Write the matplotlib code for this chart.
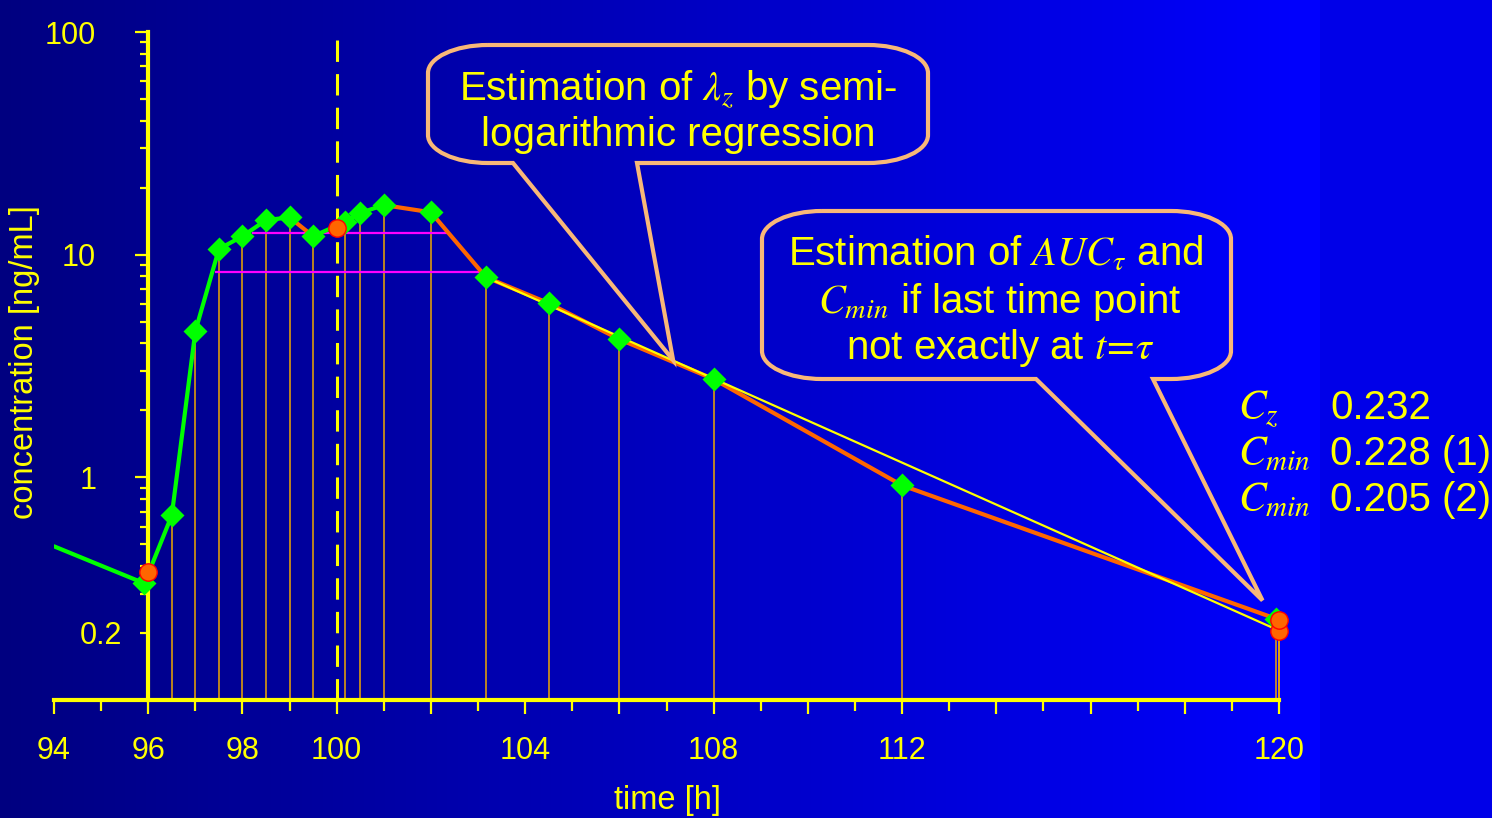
import matplotlib.pyplot as plt
import numpy as np
from matplotlib.path import Path
from matplotlib.patches import PathPatch
from matplotlib.ticker import FixedLocator, FuncFormatter, LogLocator

plt.rcParams['font.family'] = ['Liberation Sans', 'DejaVu Sans']
plt.rcParams['mathtext.fontset'] = 'stix'

# sampling times [h] and measured concentrations [ng/mL]
times = [95.92, 96.5, 97, 97.5, 98, 98.5, 99, 99.5, 100.17, 100.5, 101, 102,
         103.17, 104.5, 106, 108, 112, 119.93]
conc = [0.334, 0.675, 4.53, 10.6, 12.1, 14.3, 14.7, 12.1, 14.0, 15.4, 16.7, 15.5,
        7.92, 6.05, 4.17, 2.76, 0.92, 0.232]

# tail of the previous dosing interval
prev_t = [94.0, 95.92]
prev_c = [0.49, 0.334]

# interpolated / extrapolated concentrations at interval borders
est_t = [96, 100, 120, 120]
est_c = [0.374, 13.2, 0.205, 0.228]

# semi-logarithmic regression (lambda_z)
reg_t = [103.17, 120]
reg_c = [7.92, 0.205]

# horizontal plateau levels
plateau_c = [12.5, 8.34]
plateau_from = [98.2, 97.42]
plateau_to = [102.34, 103.19]

tau_start, tau_end = 96, 120
dose_time = 100

xtick_vals = list(range(94, 121, 2))
xtick_minor = list(range(95, 120, 2))
xtick_shown = [94, 96, 98, 100, 104, 108, 112, 120]

summary_names = [r'$C_z$', r'$C_{min}$', r'$C_{min}$']
summary_vals = ['0.232', '0.228 (1)', '0.205 (2)']

yellow = '#FFFF00'
green = '#00FF00'
orange = '#FF6600'
edge = '#F8B878'

W, H = 1492, 818
fig = plt.figure(figsize=(W / 100, H / 100), dpi=100)


def fx(px):
    return px / W


def fy(py):
    return 1 - py / H


# background gradient (navy -> blue)
bg = fig.add_axes([0, 0, 1, 1], zorder=-10)
cols = np.arange(W)
blue = np.clip(128 + 127 * cols / 1320, 0, 255)
blue[1320:] = 232
img = np.zeros((1, W, 3))
img[0, :, 2] = blue / 255
bg.imshow(img, aspect='auto', extent=[0, 1, 0, 1])
bg.axis('off')

ax = fig.add_axes([fx(54), fy(700), fx(1279) - fx(54), fy(32) - fy(700)])
ax.patch.set_alpha(0)
ax.set_yscale('log')
ax.set_xlim(94, tau_end)
ax.set_ylim(0.1, 100)

# drop lines (only inside the dosing interval)
drop_t = [t for t in times if t >= tau_start]
drop_c = [c for t, c in zip(times, conc) if t >= tau_start]
ax.vlines(drop_t, 0.1, drop_c, colors='#F0A800', lw=1.1, zorder=1)
ax.vlines(est_t[2:], 0.1, est_c[2:], colors='#F0A800', lw=1.1, zorder=1, clip_on=False)
ax.hlines(plateau_c, plateau_from, plateau_to, colors='#FF00FF', lw=1.6, zorder=2)
ax.axvline(dose_time, color=yellow, lw=2.2, dashes=(7, 4), zorder=2)

# concentration curve: linear up (green), log down (orange)
ax.plot(prev_t, prev_c, color=green, lw=3, solid_capstyle='round', zorder=3)
for i in range(len(times) - 1):
    c = green if conc[i + 1] >= conc[i] else orange
    ax.plot(times[i:i + 2], conc[i:i + 2], color=c, lw=3,
            solid_capstyle='round', zorder=3)
ax.plot(reg_t, reg_c, color=yellow, lw=1.6, zorder=4)
ax.plot(times, conc, 'D', color=green, ms=12, mec='none', zorder=5, clip_on=False)
ax.plot(est_t, est_c, 'o', mfc=orange, mec='#FF0000', ms=12.5, mew=1, zorder=6,
        clip_on=False)

for s in ['top', 'right']:
    ax.spines[s].set_visible(False)
ax.spines['left'].set_position(('data', tau_start))
for s in ['left', 'bottom']:
    ax.spines[s].set_color(yellow)
    ax.spines[s].set_linewidth(3)

ax.xaxis.set_major_locator(FixedLocator(xtick_vals))
ax.xaxis.set_minor_locator(FixedLocator(xtick_minor))
ax.set_xticklabels([str(v) if v in xtick_shown else '' for v in xtick_vals])
ax.tick_params(axis='x', which='major', length=10, width=1.6, color=yellow,
               labelcolor=yellow, labelsize=22, pad=16)
ax.tick_params(axis='x', which='minor', length=8, width=1.6, color=yellow)

ax.yaxis.set_major_locator(FixedLocator([1, 10, 100]))
ax.yaxis.set_major_formatter(FuncFormatter(lambda v, p: f'{v:g}'))
ax.yaxis.set_minor_locator(LogLocator(base=10, subs=np.arange(2, 10)))
ax.yaxis.set_minor_formatter(FuncFormatter(lambda v, p: '0.2' if abs(v - 0.2) < 1e-9 else ''))
ax.tick_params(axis='y', which='major', length=9.5, width=1.6, color=yellow,
               labelcolor=yellow, labelsize=22, pad=28)
ax.tick_params(axis='y', which='minor', length=6, width=1.6, color=yellow,
               labelcolor=yellow, labelsize=22, pad=13)

fig.text(fx(25), fy(362), 'concentration [ng/mL]', rotation=90, ha='center',
         va='center', fontsize=23.5, color=yellow)
fig.text(fx(667), fy(800), 'time [h]', ha='center', va='center',
         fontsize=23.5, color=yellow)


def callout(left, top, right, bottom, tail_l, tail_r, tip, rx=60, ry=28):
    tx, ty = ax.transData.transform(tip)
    tip_px = (tx, H - ty)
    k = 0.5523
    P = [(left + rx, top), (right - rx, top),
         (right - rx + k * rx, top), (right, top + ry - k * ry), (right, top + ry),
         (right, bottom - ry),
         (right, bottom - ry + k * ry), (right - rx + k * rx, bottom), (right - rx, bottom),
         (tail_r, bottom), tip_px, (tail_l, bottom), (left + rx, bottom),
         (left + rx - k * rx, bottom), (left, bottom - ry + k * ry), (left, bottom - ry),
         (left, top + ry),
         (left, top + ry - k * ry), (left + rx - k * rx, top), (left + rx, top)]
    codes = [Path.MOVETO, Path.LINETO,
             Path.CURVE4, Path.CURVE4, Path.CURVE4,
             Path.LINETO,
             Path.CURVE4, Path.CURVE4, Path.CURVE4,
             Path.LINETO, Path.LINETO, Path.LINETO, Path.LINETO,
             Path.CURVE4, Path.CURVE4, Path.CURVE4,
             Path.LINETO,
             Path.CURVE4, Path.CURVE4, Path.CURVE4]
    verts = [(fx(x), fy(y)) for x, y in P]
    fig.patches.append(PathPatch(Path(verts, codes), transform=fig.transFigure,
                                 fc='none', ec=edge, lw=3, zorder=8))


callout(428, 45, 928, 163, 513, 637, (107.14, 3.36))
callout(762, 211, 1231, 379, 1036, 1153, (119.65, 0.28))

box_kw = dict(ha='center', va='baseline', fontsize=29, color=yellow)
fig.text(fx(678), fy(101), r'Estimation of $\lambda_z$ by semi-', **box_kw)
fig.text(fx(678), fy(146), 'logarithmic regression', **box_kw)
fig.text(fx(996), fy(266), r'Estimation of $AUC_\tau$ and', **box_kw)
fig.text(fx(1000), fy(313), r'$C_{min}$ if last time point', **box_kw)
fig.text(fx(1000), fy(359), r'not exactly at $t\!=\!\tau$', **box_kw)

for i, (name, val) in enumerate(zip(summary_names, summary_vals)):
    base = 419 + 46 * i
    fig.text(fx(1238), fy(base), name, va='baseline', fontsize=30, color=yellow)
    fig.text(fx(1330), fy(base), val, va='baseline', fontsize=29, color=yellow)

fig.savefig('out.png', dpi=100)
